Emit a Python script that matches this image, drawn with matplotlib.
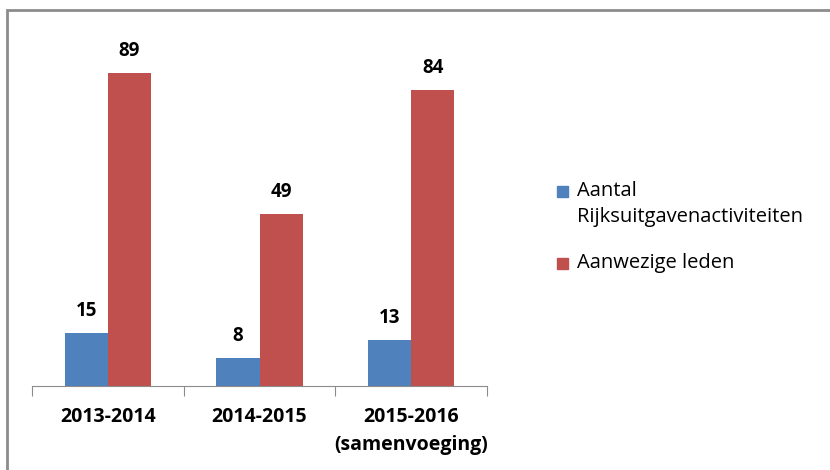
import matplotlib.pyplot as plt
from matplotlib.patches import Rectangle
import numpy as np

categories = ["2013-2014", "2014-2015", "2015-2016\n(samenvoeging)"]
activiteiten = [15, 8, 13]
leden = [89, 49, 84]
series_names = ["Aantal\nRijksuitgavenactiviteiten", "Aanwezige leden"]

blue = "#4F81BD"
red = "#C0504D"

plt.rcParams['font.family'] = ['Open Sans', 'DejaVu Sans']

fig = plt.figure(figsize=(8.3, 4.7), dpi=100)
ax = fig.add_axes([32/830, 1-386/470, 455/830, 352/470])

# grey chart frame, runs off the right and bottom edge
fig.patches.append(Rectangle((7/830, -0.05), 1.0, 1 - 10/470 + 0.05,
                             transform=fig.transFigure, fill=False,
                             edgecolor="#8c8c8c", linewidth=2))

x = np.arange(len(categories))
w = 0.285
b1 = ax.bar(x - w/2, activiteiten, w, color=blue)
b2 = ax.bar(x + w/2, leden, w, color=red)

for bars in (b1, b2):
    for r in bars:
        ax.text(r.get_x() + r.get_width()/2, r.get_height() + 3.4,
                str(int(r.get_height())), ha="center", va="bottom",
                fontsize=13.5, fontweight="bold")

ax.set_xlim(-0.5, 2.5)
ax.set_ylim(0, 100)
ax.set_yticks([])
ax.set_xticks([-0.5, 0.5, 1.5, 2.5])
ax.set_xticklabels([])
ax.set_xticks(x, minor=True)
ax.set_xticklabels(categories, minor=True, fontsize=14, fontweight="bold",
                   linespacing=1.55)
ax.tick_params(axis="x", which="major", length=7, color="#8c8c8c")
ax.tick_params(axis="x", which="minor", length=0, pad=15)
for s in ("top", "right", "left"):
    ax.spines[s].set_visible(False)
ax.spines["bottom"].set_color("#8c8c8c")

# legend, square aligned with the first text line as in the original
legend_tops = [186, 258]
for name, col, top in zip(series_names, [blue, red], legend_tops):
    fig.patches.append(Rectangle((557/830, 1 - (top + 11)/470), 11/830, 11/470,
                                 transform=fig.transFigure, color=col))
    fig.text(577/830, 1 - (top - 5)/470, name, ha="left", va="top",
             fontsize=14.5, linespacing=1.4)

fig.savefig("out.png", dpi=100)
